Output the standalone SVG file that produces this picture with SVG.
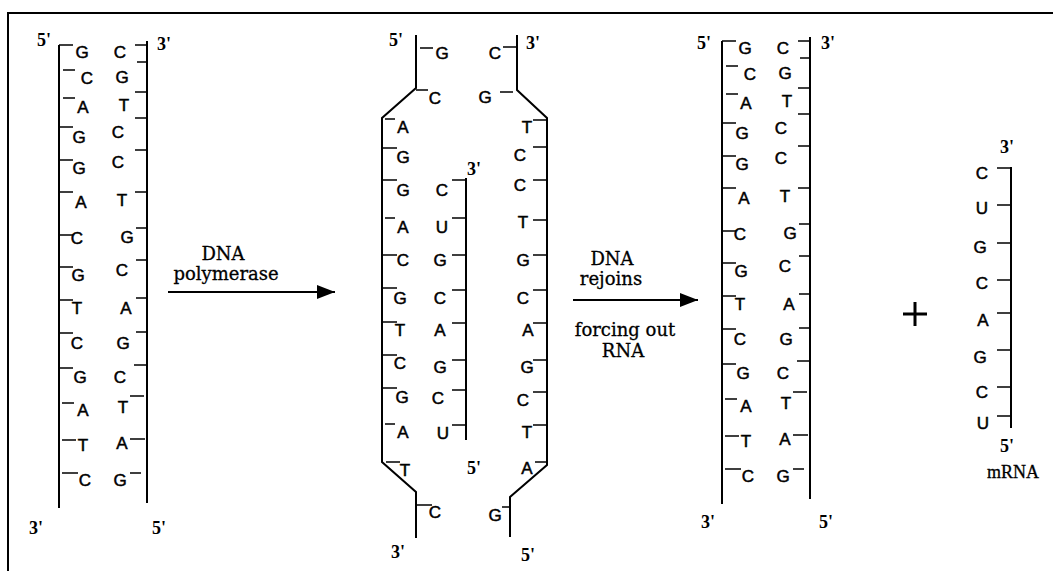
<svg xmlns="http://www.w3.org/2000/svg" xmlns:xlink="http://www.w3.org/1999/xlink" width="1053" height="571" viewBox="0 0 1053 571">
<style>
  .bb { fill: none; stroke: #000; stroke-width: 2; stroke-linejoin: miter; }
  .tk { stroke: #000; stroke-width: 1.6; fill: none; }
  .b { font-family: "Liberation Sans", Arial, sans-serif; font-size: 17px; fill: #000; stroke: #000; stroke-width: 0.5; text-anchor: middle; }
  .p { font-family: "Liberation Serif", "Times New Roman", serif; font-size: 18px; font-weight: bold; fill: #000; }
  .lbl { font-family: "DejaVu Serif", "Liberation Serif", serif; font-size: 18px; fill: #000; stroke: #000; stroke-width: 0.3; text-anchor: middle; }
  .frame { stroke: #000; stroke-width: 2; fill: none; }
  .arr { stroke: #000; stroke-width: 2; fill: none; }
</style>
<defs>
  <marker id="ah" markerWidth="18" markerHeight="14" refX="18" refY="7" orient="auto" markerUnits="userSpaceOnUse">
    <path d="M0,0 L18,7 L0,14 Z" fill="#000"/>
  </marker>
  <g id="duplex">
    <line class="bb" x1="59" y1="45" x2="59" y2="508"/>
    <line class="bb" x1="147" y1="41" x2="147" y2="503"/>
    <path class="tk" d="M59,45H73 M63,70H75 M63,98H75 M59,127H73 M59,160H73 M59,192H73 M59,235H73 M59,267H73 M59,300H73 M59,333H73 M59,368H73 M62,403H74 M62,440H76 M62,473H78"/>
    <path class="tk" d="M135,45H147 M137,62H147 M135,92H147 M135,118H147 M135,150H147 M135,192H147 M136,228H147 M136,260H147 M136,298H147 M136,332H147 M134,365H147 M130,396H144 M130,439H145 M130,473H141"/>
    <text class="b" x="82" y="58">G</text>
    <text class="b" x="87" y="84">C</text>
    <text class="b" x="83" y="113">A</text>
    <text class="b" x="79" y="143">G</text>
    <text class="b" x="79" y="174">G</text>
    <text class="b" x="81" y="208">A</text>
    <text class="b" x="77" y="244">C</text>
    <text class="b" x="78" y="281">G</text>
    <text class="b" x="77" y="314">T</text>
    <text class="b" x="77" y="349">C</text>
    <text class="b" x="80" y="383">G</text>
    <text class="b" x="83" y="416">A</text>
    <text class="b" x="83" y="451">T</text>
    <text class="b" x="85" y="486">C</text>
    <text class="b" x="120" y="58">C</text>
    <text class="b" x="122" y="83">G</text>
    <text class="b" x="124" y="111">T</text>
    <text class="b" x="118" y="138">C</text>
    <text class="b" x="118" y="168">C</text>
    <text class="b" x="122" y="206">T</text>
    <text class="b" x="127" y="243">G</text>
    <text class="b" x="122" y="276">C</text>
    <text class="b" x="126" y="314">A</text>
    <text class="b" x="123" y="349">G</text>
    <text class="b" x="120" y="383">C</text>
    <text class="b" x="123" y="413">T</text>
    <text class="b" x="122" y="449">A</text>
    <text class="b" x="120" y="486">G</text>
  </g>
</defs>

<g id="frame">
  <line class="frame" x1="8" y1="13" x2="1053" y2="13"/>
  <line class="frame" x1="8" y1="12" x2="8" y2="571"/>
</g>

<g id="dna-original">
  <use href="#duplex" xlink:href="#duplex"/>
  <text class="p" x="37" y="46">5'</text>
  <text class="p" x="157" y="50">3'</text>
  <text class="p" x="29" y="534">3'</text>
  <text class="p" x="152" y="534">5'</text>
</g>

<g id="dna-opened">
  <path class="bb" d="M416,35 V88 L382,118 V462 L416,492 V538"/>
  <path class="bb" d="M517,35 V90 L547,118 V465 L510,497 V537"/>
  <path class="tk" d="M420,48H433 M416,90H428 M385,119H395 M383,148H397 M383,180H397 M385,218H395 M383,255H397 M383,288H397 M383,322H397 M383,355H397 M383,388H397 M385,424H395 M386,462H400 M417,505H432"/>
  <path class="tk" d="M503,47H517 M500,92H513 M533,120H547 M533,147H547 M533,180H547 M533,220H547 M533,255H547 M533,290H547 M533,323H547 M533,360H547 M533,392H547 M533,425H547 M535,462H547 M502,507H511"/>
  <text class="b" x="442" y="59">G</text>
  <text class="b" x="435" y="104">C</text>
  <text class="b" x="403" y="133">A</text>
  <text class="b" x="403" y="163">G</text>
  <text class="b" x="403" y="196">G</text>
  <text class="b" x="403" y="233">A</text>
  <text class="b" x="403" y="266">C</text>
  <text class="b" x="400" y="304">G</text>
  <text class="b" x="400" y="336">T</text>
  <text class="b" x="400" y="369">C</text>
  <text class="b" x="402" y="403">G</text>
  <text class="b" x="403" y="438">A</text>
  <text class="b" x="405" y="476">T</text>
  <text class="b" x="435" y="518">C</text>
  <text class="b" x="495" y="59">C</text>
  <text class="b" x="485" y="103">G</text>
  <text class="b" x="527" y="133">T</text>
  <text class="b" x="520" y="161">C</text>
  <text class="b" x="520" y="191">C</text>
  <text class="b" x="523" y="228">T</text>
  <text class="b" x="523" y="266">G</text>
  <text class="b" x="523" y="304">C</text>
  <text class="b" x="528" y="336">A</text>
  <text class="b" x="527" y="373">G</text>
  <text class="b" x="523" y="406">C</text>
  <text class="b" x="527" y="438">T</text>
  <text class="b" x="527" y="474">A</text>
  <text class="b" x="495" y="521">G</text>
  <text class="p" x="389" y="46">5'</text>
  <text class="p" x="526" y="49">3'</text>
  <text class="p" x="391" y="558">3'</text>
  <text class="p" x="521" y="561">5'</text>
</g>

<g id="rna-in-bubble">
  <line class="bb" x1="466" y1="178" x2="466" y2="440"/>
  <path class="tk" d="M452,180H466 M452,218H466 M452,255H466 M452,290H466 M452,323H466 M452,360H466 M452,390H466 M452,425H466"/>
  <text class="b" x="442" y="196">C</text>
  <text class="b" x="442" y="233">U</text>
  <text class="b" x="440" y="266">G</text>
  <text class="b" x="440" y="304">C</text>
  <text class="b" x="440" y="336">A</text>
  <text class="b" x="440" y="373">G</text>
  <text class="b" x="438" y="404">C</text>
  <text class="b" x="443" y="439">U</text>
  <text class="p" x="467" y="175">3'</text>
  <text class="p" x="467" y="474">5'</text>
</g>

<g id="dna-rejoined">
  <use href="#duplex" xlink:href="#duplex" transform="translate(663,-4)"/>
  <text class="p" x="697" y="49">5'</text>
  <text class="p" x="821" y="49">3'</text>
  <text class="p" x="701" y="528">3'</text>
  <text class="p" x="819" y="528">5'</text>
</g>

<g id="plus">
  <path d="M903,314H927 M915,302V326" stroke="#000" stroke-width="3" fill="none"/>
</g>

<g id="mrna">
  <line class="bb" x1="1011" y1="167" x2="1011" y2="428"/>
  <path class="tk" d="M997,168H1011 M997,205H1011 M997,243H1011 M997,280H1011 M997,313H1011 M997,350H1011 M997,387H1011 M997,416H1011"/>
  <text class="b" x="982" y="179">C</text>
  <text class="b" x="982" y="214">U</text>
  <text class="b" x="980" y="253">G</text>
  <text class="b" x="982" y="289">C</text>
  <text class="b" x="983" y="326">A</text>
  <text class="b" x="980" y="363">G</text>
  <text class="b" x="982" y="398">C</text>
  <text class="b" x="983" y="429">U</text>
  <text class="p" x="1000" y="153">3'</text>
  <text class="p" x="1000" y="452">5'</text>
  <text x="1013" y="478" style="font-family:'Liberation Serif','Times New Roman',serif;font-size:18px;text-anchor:middle;stroke:#000;stroke-width:0.3;">mRNA</text>
</g>

<g id="connectors">
  <line class="arr" x1="168" y1="292" x2="335" y2="292" marker-end="url(#ah)"/>
  <line class="arr" x1="573" y1="300" x2="698" y2="300" marker-end="url(#ah)"/>
</g>

<g id="labels">
  <text class="lbl" x="223" y="260">DNA</text>
  <text class="lbl" x="226" y="280">polymerase</text>
  <text class="lbl" x="612" y="265">DNA</text>
  <text class="lbl" x="611" y="285">rejoins</text>
  <text class="lbl" x="625" y="336">forcing out</text>
  <text class="lbl" x="623" y="357">RNA</text>
</g>
</svg>
